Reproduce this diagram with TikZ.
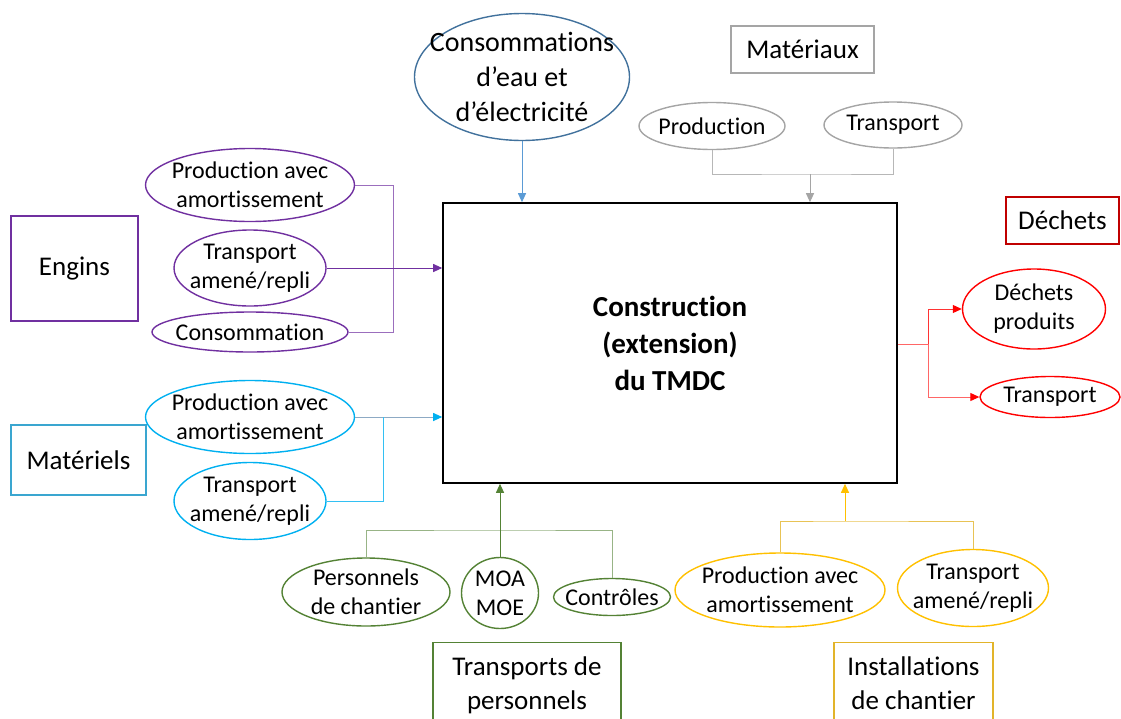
\documentclass[tikz,border=0pt]{standalone}
\usepackage{fontspec}
\setmainfont{Carlito}[Ligatures=NoCommon]
\usetikzlibrary{shapes.geometric, arrows.meta}
\definecolor{engviolet}{HTML}{7030A0}
\definecolor{eaublue}{HTML}{41719C}
\definecolor{eauarrow}{HTML}{5B9BD5}
\definecolor{matgray}{HTML}{A5A5A5}
\definecolor{dechred}{HTML}{FF0000}
\definecolor{dechdark}{HTML}{C00000}
\definecolor{mlcyan}{HTML}{00B0F0}
\definecolor{mlbox}{HTML}{3AA6D0}
\definecolor{trgreen}{HTML}{548235}
\definecolor{insyellow}{HTML}{FFC000}
\definecolor{insgold}{HTML}{E2B42A}

\begin{document}
\begin{tikzpicture}[x=1pt, y=-1pt,
      oval/.style={ellipse, draw=#1, line width=1.4pt, inner xsep=-22pt, inner ysep=-12pt, align=center, font=\fontsize{24}{29}\selectfont},
      catbox/.style={rectangle, draw=#1, line width=1.4pt, inner sep=0pt, align=center, font=\fontsize{27}{34}\selectfont},
      wire/.style={draw=#1, line width=1pt},
      arrowto/.style={-{Triangle[length=9pt, width=8pt, color=#1]}}]
      \useasboundingbox (0,0) rectangle (1121,718);
      \node[draw=black, line width=1.6pt, minimum width=454pt, minimum height=280pt, align=center, font=\bfseries\fontsize{29}{37}\selectfont] (main) at (670,343) {Construction\\(extension)\\du TMDC};

      \node[catbox=engviolet, minimum width=127pt, minimum height=105pt] (engins) at (74.5,268.5) {Engins};
      \node[oval=engviolet, minimum width=209pt, minimum height=73pt] (engprod) at (250,185) {Production avec\\amortissement};
      \node[oval=engviolet, minimum width=152pt, minimum height=76pt] (engtr) at (250,268) {Transport\\amené/repli};
      \node[oval=engviolet, minimum width=196pt, minimum height=40pt] (engcons) at (250,332) {Consommation};
      \coordinate (engbus) at (393,186);
      \draw[wire=engviolet!70] (engprod.east) -- (engprod.east -| engbus) |- (engcons.east);
      \draw[wire=engviolet, arrowto=engviolet] (engtr.east) -- (engtr.east -| main.west);

      \node[oval=eaublue, minimum width=215pt, minimum height=127pt, font=\fontsize{28}{35}\selectfont] (eau) at (522,77) {Consommations\\d’eau et\\d’électricité};
      \draw[wire=eauarrow, arrowto=eauarrow] (eau.south) -- (eau.south |- main.north);

      \node[catbox=matgray, minimum width=143pt, minimum height=47pt] (materiaux) at (802.5,49.5) {Matériaux};
      \node[oval=matgray, minimum width=146pt, minimum height=47pt] (matprod) at (712,126) {Production};
      \node[oval=matgray, minimum width=138pt, minimum height=46pt] (mattr) at (893,125) {Transport};
      \coordinate (matbus) at (810,174);
      \draw[wire=matgray!80] (matprod.south) |- (matbus) -| (mattr.south);
      \draw[wire=matgray, arrowto=matgray] (matbus) -- (matbus |- main.north);

      \node[catbox=dechdark, minimum width=113pt, minimum height=47pt] (dechets) at (1062.5,220.5) {Déchets};
      \node[oval=dechred, minimum width=143pt, minimum height=80pt] (dprod) at (1034,309) {Déchets\\produits};
      \node[oval=dechred, minimum width=140pt, minimum height=41pt] (dtr) at (1050,397) {Transport};
      \coordinate (dechbus) at (928,344);
      \draw[wire=dechred!60] (main.east |- dechbus) -- (dechbus);
      \draw[wire=dechred!80, arrowto=dechred] (dechbus) |- (dprod.west);
      \draw[wire=dechred!60, arrowto=dechred] (dechbus) |- (dtr.west);

      \node[catbox=mlbox, minimum width=135pt, minimum height=70pt] (materiels) at (78.5,460) {Matériels};
      \node[oval=mlcyan, minimum width=209pt, minimum height=73pt] (mlprod) at (250,417) {Production avec\\amortissement};
      \node[oval=mlcyan, minimum width=152pt, minimum height=77pt] (mltr) at (250,501) {Transport\\amené/repli};
      \coordinate (mlbus) at (383,417);
      \draw[wire=eaublue!60, arrowto=mlcyan] (mlprod.east) -- (mlprod.east -| main.west);
      \draw[wire=mlcyan!80] (mlbus) |- (mltr.east);

      \node[oval=trgreen, minimum width=168pt, minimum height=68pt] (pers) at (366,592) {Personnels\\de chantier};
      \node[oval=trgreen, minimum width=77pt, minimum height=71pt] (moa) at (500,593) {MOA\\MOE};
      \node[oval=trgreen, minimum width=117pt, minimum height=37pt] (ctrl) at (612,597) {Contrôles};
      \coordinate (trbus) at (500,530);
      \draw[wire=trgreen!60] (pers.north) |- (trbus) -| (ctrl.north);
      \draw[wire=trgreen, arrowto=trgreen] (moa.north) -- (moa.north |- main.south);
      \node[catbox=trgreen, anchor=north, minimum width=188pt, inner ysep=14pt] (trpers) at (527,642) {Transports de\\personnels};

      \node[oval=insyellow, minimum width=210pt, minimum height=74pt] (insprod) at (780,590) {Production avec\\amortissement};
      \node[oval=insyellow, minimum width=151pt, minimum height=77pt] (instr) at (973,588) {Transport\\amené/repli};
      \coordinate (insbus) at (845,521);
      \draw[wire=insgold!80] (insprod.north) |- (insbus) -| (instr.north);
      \draw[wire=insyellow, arrowto=insyellow] (insbus) -- (insbus |- main.south);
      \node[catbox=insgold, anchor=north, minimum width=159pt, inner ysep=14pt] (installations) at (913.5,642) {Installations\\de chantier};
    \end{tikzpicture}
\end{document}
